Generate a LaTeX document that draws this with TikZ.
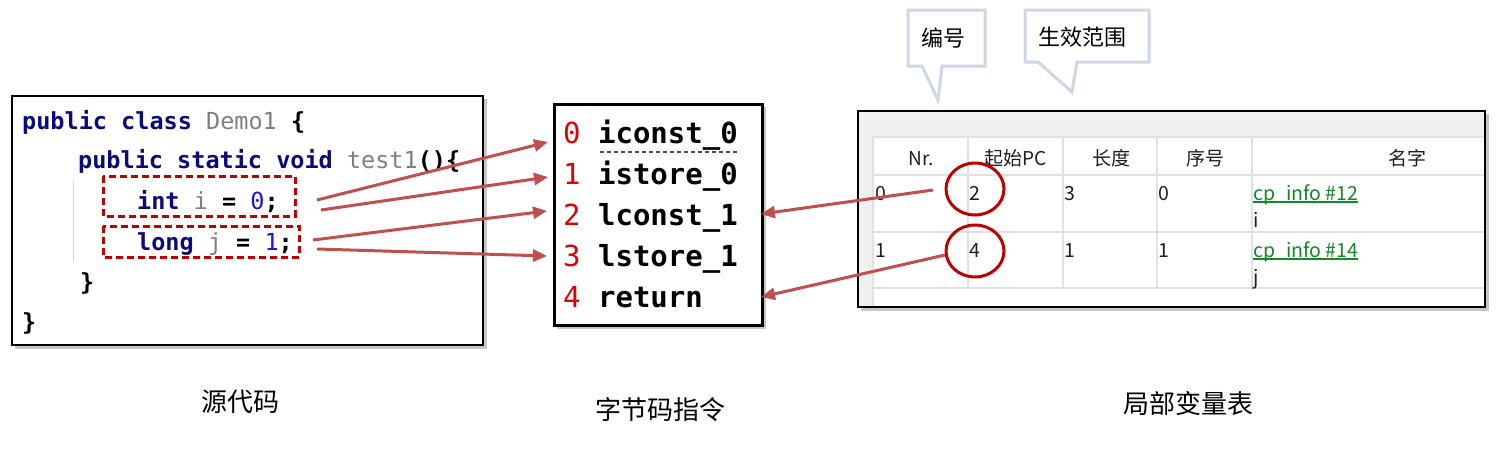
\documentclass[tikz,border=0pt]{standalone}
\usepackage{fontspec}
\setmainfont{Noto Sans CJK SC}
\newfontfamily\cjk{Noto Sans CJK SC}
\newfontfamily\mono{DejaVu Sans Mono}
\usetikzlibrary{arrows.meta,shapes.geometric}
\definecolor{kw}{RGB}{10,10,125}
\definecolor{idg}{RGB}{128,128,128}
\definecolor{numb}{RGB}{20,20,235}
\definecolor{boxred}{RGB}{192,0,0}
\definecolor{arrowred}{RGB}{192,80,77}
\definecolor{bcred}{RGB}{225,0,0}
\definecolor{lnk}{RGB}{20,135,40}
\definecolor{callout}{RGB}{205,215,230}
\definecolor{gridc}{RGB}{225,225,225}
\definecolor{panel}{RGB}{240,240,240}
\definecolor{txt}{RGB}{30,30,30}
\tikzset{
  codeln/.style={anchor=base west, inner sep=0pt, font=\mono\bfseries\fontsize{23.5}{28}\selectfont},
  bcln/.style={anchor=base west, inner sep=0pt, font=\mono\bfseries\fontsize{29}{34}\selectfont},
  tcell/.style={anchor=base west, inner sep=0pt, text=txt, font=\cjk\fontsize{19.5}{23}\selectfont},
  thead/.style={anchor=base, inner sep=0pt, text=txt, font=\cjk\fontsize{19}{23}\selectfont},
  caption/.style={inner sep=0pt, font=\cjk\fontsize{26}{30}\selectfont},
  calltext/.style={inner sep=0pt, font=\cjk\fontsize{22}{26}\selectfont},
  dashbox/.style={draw=boxred, line width=3pt, dash pattern=on 7pt off 4pt},
  arr/.style={draw=arrowred, line width=3pt, -{Triangle[length=14pt,width=12pt]}},
  circ/.style={ellipse, draw=boxred, line width=3pt, minimum width=58pt, minimum height=52pt, inner sep=0pt},
  shadowbox/.style={fill=black!22},
  callbox/.style={draw=callout, line width=3pt, fill=white, line join=miter},
}
\begin{document}
\begin{tikzpicture}[x=1pt,y=-1pt]
\useasboundingbox (0,0) rectangle (1497,455);
\fill[white] (0,0) rectangle (1497,455);

% ---------- source code box ----------
\fill[shadowbox] (15,99) rectangle (487,349);
\draw[line width=2pt, fill=white] (12,96) rectangle (483,345);
\draw[black!15, line width=1pt] (73,180) -- (73,262);
\node[codeln] (l1) at (22,129) {\textcolor{kw}{public class} \textcolor{idg}{\mdseries Demo1} \{};
\node[codeln] (l2) at (78,168) {\textcolor{kw}{public static void} \textcolor{idg}{\mdseries test1}()\{};
\node[codeln] (l3) at (137,209) {\textcolor{kw}{int} \textcolor{idg}{\mdseries i} = \textcolor{numb}{\mdseries 0};};
\node[codeln] (l4) at (137,250) {\textcolor{kw}{long} \textcolor{idg}{\mdseries j} = \textcolor{numb}{\mdseries 1};};
\node[codeln] (l5) at (80,290) {\}};
\node[codeln] (l6) at (22,330) {\}};
\draw[dashbox] (103,176) rectangle (295,216);
\draw[dashbox] (103,226) rectangle (299,257);

% ---------- bytecode box ----------
\fill[shadowbox] (557,107) rectangle (766,329);
\draw[line width=3pt, fill=white] (554,104) rectangle (762,325);
\node[bcln] (b0) at (563,143) {\textcolor{bcred}{\mdseries 0} iconst\_0};
\node[bcln] (b1) at (563,184) {\textcolor{bcred}{\mdseries 1} istore\_0};
\node[bcln] (b2) at (563,225) {\textcolor{bcred}{\mdseries 2} lconst\_1};
\node[bcln] (b3) at (563,266) {\textcolor{bcred}{\mdseries 3} lstore\_1};
\node[bcln] (b4) at (563,307) {\textcolor{bcred}{\mdseries 4} return};
\draw[black!70, line width=1.2pt, dash pattern=on 4pt off 3pt] (600,152) -- (737,152);

% ---------- local variable table ----------
\fill[shadowbox] (861,114) rectangle (1489,311);
\fill[panel] (858,111) rectangle (1485,307);
\fill[white] (873,137) rectangle (1485,307);
\draw[gridc, line width=1.2pt] (873,137) -- (1485,137) (873,175) -- (1485,175) (873,232) -- (1485,232) (873,288) -- (1485,288);
\draw[gridc, line width=1.2pt] (873,137) -- (873,307);
\foreach \cx in {968,1063,1157,1252} \draw[gridc, line width=1.2pt] (\cx,137) -- (\cx,288);
\draw[line width=2pt] (858,111) rectangle (1485,307);
\node[thead] (h1) at (921,165) {Nr.};
\node[thead] (h2) at (1016,165) {起始PC};
\node[thead] (h3) at (1111,165) {长度};
\node[thead] (h4) at (1205,165) {序号};
\node[thead] (h5) at (1407,165) {名字};
\node[tcell] (r1a) at (875,200) {0};
\node[tcell] (r1b) at (969,200) {2};
\node[tcell] (r1c) at (1064,200) {3};
\node[tcell] (r1d) at (1158,200) {0};
\node[tcell, text=lnk] (r1e) at (1253,200) {cp\_info \#12};
\node[tcell] (r1f) at (1253,227) {i};
\node[tcell] (r2a) at (875,257) {1};
\node[tcell] (r2b) at (969,257) {4};
\node[tcell] (r2c) at (1064,257) {1};
\node[tcell] (r2d) at (1158,257) {1};
\node[tcell, text=lnk] (r2e) at (1253,257) {cp\_info \#14};
\node[tcell] (r2f) at (1253,284) {j};
\draw[lnk, line width=1.4pt] ([yshift=-2pt]r1e.base west) -- ([yshift=-2pt]r1e.base east);
\draw[lnk, line width=1.4pt] ([yshift=-2pt]r2e.base west) -- ([yshift=-2pt]r2e.base east);
\node[circ] (c1) at (975,189) {};
\node[circ] (c2) at (975,251) {};

% ---------- callouts ----------
\draw[callbox] (908,10) -- (985,10) -- (985,66) -- (942,66) -- (938,100) -- (922,66) -- (908,66) -- cycle;
\node[calltext] (k1) at (943,38) {编号};
\draw[callbox] (1025,10) -- (1149,10) -- (1149,62) -- (1077,62) -- (1072,92) -- (1038,62) -- (1025,62) -- cycle;
\node[calltext] (k2) at (1082,37) {生效范围};

% ---------- arrows ----------
\coordinate (s1) at (317,200);
\coordinate (s2) at (321,210);
\coordinate (s3) at (313,240);
\coordinate (s4) at (317,249);
\coordinate (e0) at (548,142);
\coordinate (e1) at (548,177);
\coordinate (e2) at (547,211);
\coordinate (e3) at (547,256);
\coordinate (t1) at (933,190);
\coordinate (t2) at (945,255);
\coordinate (f2) at (761,214);
\coordinate (f4) at (761,297);
\draw[arr] (s1) -- (e0);
\draw[arr] (s2) -- (e1);
\draw[arr] (s3) -- (e2);
\draw[arr] (s4) -- (e3);
\draw[arr] (t1) -- (f2);
\draw[arr] (t2) -- (f4);

% ---------- captions ----------
\node[caption] (cap1) at (240,402) {源代码};
\node[caption] (cap2) at (660,410) {字节码指令};
\node[caption] (cap3) at (1188,404) {局部变量表};
\end{tikzpicture}
\end{document}
